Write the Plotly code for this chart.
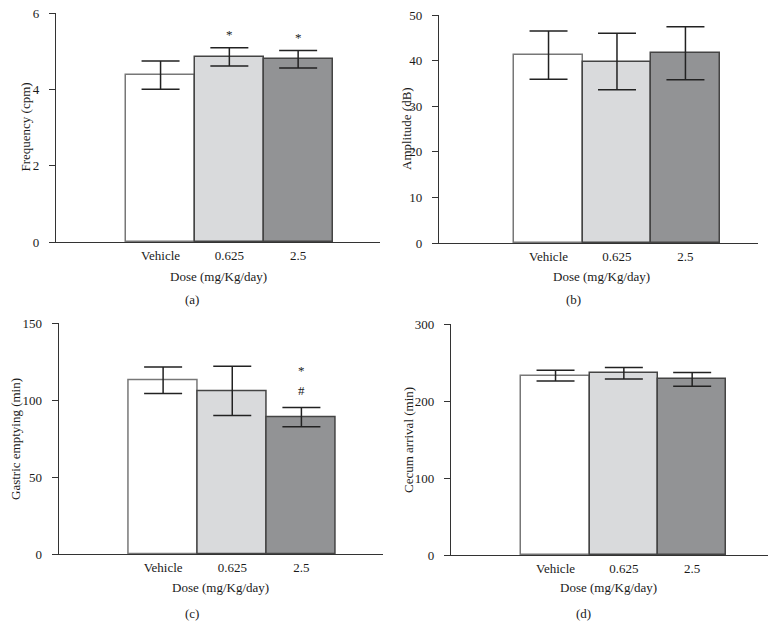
import plotly.graph_objects as go

categories = ["Vehicle", "0.625", "2.5"]

freq_mean = [4.37, 4.85, 4.79]
freq_err = [0.37, 0.24, 0.23]

amp_mean = [41.2, 39.8, 41.6]
amp_err = [5.3, 6.2, 5.8]

gastric_mean = [113, 106, 89]
gastric_err = [8.6, 16, 6.3]

cecum_mean = [233, 236, 228]
cecum_err = [7, 7.5, 9]

y_titles = ["Frequency (cpm)", "Amplitude (dB)", "Gastric emptying (min)", "Cecum arrival (min)"]
panel_labels = ["(a)", "(b)", "(c)", "(d)"]
x_title = "Dose (mg/Kg/day)"

W, H = 777, 638
FONT = "Liberation Serif"
FS = 13
TXT = "#1a1a1a"
fills = ["#ffffff", "#d9dadc", "#929395"]
outlines = ["#777777", "#444444", "#444444"]

def px_x(p):
    return p / W

def px_y(p):
    return 1 - p / H

panels = [
    dict(mean=freq_mean, err=freq_err, xdom=(56, 380), ydom=(242, 13), yr=[0, 6], dt=2,
         xr=[-1.52, 3.19], ytitle_xy=(25, 127.5), xtitle_xy=(218, 276), lab_xy=(192, 299)),
    dict(mean=amp_mean, err=amp_err, xdom=(439, 758), ydom=(243, 15), yr=[0, 50], dt=10,
         xr=[-1.60, 3.06], ytitle_xy=(406, 129), xtitle_xy=(601, 276), lab_xy=(573, 299)),
    dict(mean=gastric_mean, err=gastric_err, xdom=(58.7, 383), ydom=(554, 323.3), yr=[0, 150], dt=50,
         xr=[-1.51, 3.18], ytitle_xy=(15, 439), xtitle_xy=(220, 587), lab_xy=(192, 613)),
    dict(mean=cecum_mean, err=cecum_err, xdom=(451, 768), ydom=(555, 324), yr=[0, 300], dt=100,
         xr=[-1.53, 3.11], ytitle_xy=(408, 440), xtitle_xy=(608, 587), lab_xy=(583, 613)),
]

fig = go.Figure()
annotations = []
layout = {}
for i, p in enumerate(panels):
    n = "" if i == 0 else str(i + 1)
    fig.add_trace(go.Bar(
        x=categories, y=p["mean"], width=1,
        marker=dict(color=fills, line=dict(color=outlines, width=1.5)),
        error_y=dict(type="data", array=p["err"], color="#222222", thickness=1.5, width=19),
        xaxis="x" + n, yaxis="y" + n, showlegend=False, hoverinfo="skip",
    ))
    layout["xaxis" + n] = dict(
        domain=[px_x(p["xdom"][0]), px_x(p["xdom"][1])], anchor="y" + n,
        type="category", range=p["xr"], showline=True, linecolor="#333333", linewidth=1.3,
        ticks="", showgrid=False, zeroline=False, automargin=False,
        tickfont=dict(family=FONT, size=FS, color=TXT), ticklabelstandoff=1,
    )
    layout["yaxis" + n] = dict(
        domain=[px_y(p["ydom"][0]), px_y(p["ydom"][1])], anchor="x" + n,
        range=p["yr"], dtick=p["dt"], showline=True, linecolor="#333333", linewidth=1.3,
        ticks="outside", ticklen=6, tickwidth=1.3, tickcolor="#333333",
        showgrid=False, zeroline=False, automargin=False,
        tickfont=dict(family=FONT, size=FS, color=TXT), ticklabelstandoff=7,
    )
    annotations.append(dict(text=y_titles[i], x=px_x(p["ytitle_xy"][0]), y=px_y(p["ytitle_xy"][1]),
                            xref="paper", yref="paper", textangle=-90, showarrow=False,
                            xanchor="center", yanchor="middle",
                            font=dict(family=FONT, size=FS, color=TXT)))
    annotations.append(dict(text=x_title, x=px_x(p["xtitle_xy"][0]), y=px_y(p["xtitle_xy"][1]),
                            xref="paper", yref="paper", showarrow=False,
                            xanchor="center", yanchor="middle",
                            font=dict(family=FONT, size=FS, color=TXT)))
    annotations.append(dict(text=panel_labels[i], x=px_x(p["lab_xy"][0]), y=px_y(p["lab_xy"][1]),
                            xref="paper", yref="paper", showarrow=False,
                            xanchor="center", yanchor="middle",
                            font=dict(family=FONT, size=FS, color=TXT)))

# significance marks
sig = [
    ("x", "y", "0.625", 5.43, "*"),
    ("x", "y", "2.5", 5.35, "*"),
    ("x3", "y3", "2.5", 119, "*"),
    ("x3", "y3", "2.5", 106.5, "#"),
]
for xr, yr, xc, yv, t in sig:
    annotations.append(dict(text=t, x=categories.index(xc), y=yv, xref=xr, yref=yr, showarrow=False,
                            xanchor="center", yanchor="middle",
                            font=dict(family=FONT, size=FS, color=TXT)))

fig.update_layout(
    width=W, height=H, margin=dict(l=0, r=0, t=0, b=0),
    paper_bgcolor="white", plot_bgcolor="white",
    bargap=0, annotations=annotations, **layout,
)
fig.write_html("out.html", config={"displayModeBar": False},
               post_script="document.body.style.margin='0px';")
